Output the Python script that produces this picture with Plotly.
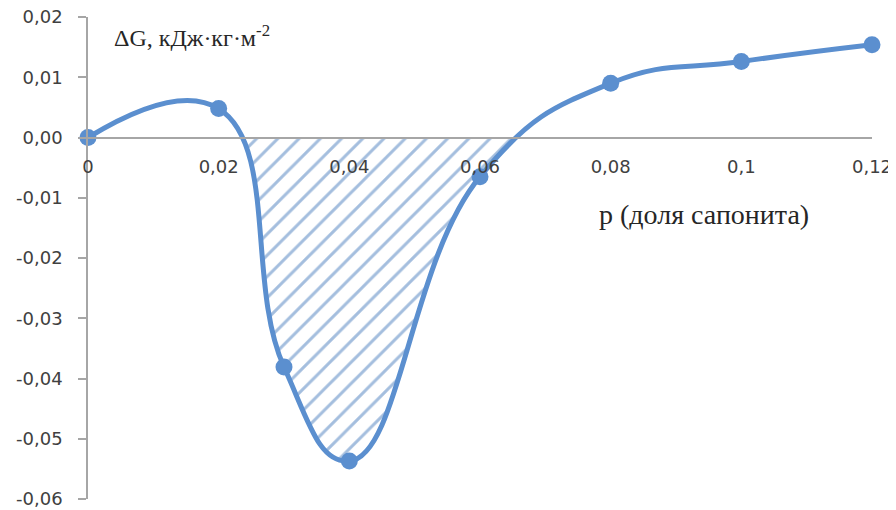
import plotly.graph_objects as go

# data
p_values = [0, 0.02, 0.03, 0.04, 0.06, 0.08, 0.1, 0.12]
dG_values = [0.0, 0.0048, -0.0381, -0.0537, -0.0065, 0.0090, 0.0126, 0.0154]
y_ticks = [0.02, 0.01, 0.0, -0.01, -0.02, -0.03, -0.04, -0.05, -0.06]
y_tick_labels = ["0,02", "0,01", "0,00", "-0,01", "-0,02", "-0,03", "-0,04", "-0,05", "-0,06"]
x_ticks = [0, 0.02, 0.04, 0.06, 0.08, 0.1, 0.12]
x_tick_labels = ["0", "0,02", "0,04", "0,06", "0,08", "0,1", "0,12"]

BLUE = "#5b8fcf"
HATCH = "#4a7dbd"
TXT = "#404040"
AX = "#a6a6a6"
YMIN, YMAX = -0.06, 0.02
zero_frac = (0 - YMIN) / (YMAX - YMIN)
TICKFONT = dict(family="DejaVu Sans, sans-serif", size=18, color=TXT)

# page body adds an 8px offset; plot area in window px: x 88..872, y 17..499
OFF = 8
L, R, T, B = 88 - OFF, 896 - (872 - OFF), 17 - OFF, 510 - (499 - OFF)
PW, PH = 872 - 88, 499 - 17


def px(xw):
    return (xw - 88) / PW


def py(yw):
    return (499 - yw) / PH


fig = go.Figure()

# hatched area (clipped to the negative half via its own subplot)
fig.add_trace(go.Scatter(
    x=p_values, y=dG_values, mode="lines", line_shape="spline", line_smoothing=1.3,
    line=dict(width=0, color=BLUE), fill="tozeroy", fillcolor="rgba(0,0,0,0)",
    fillpattern=dict(shape="/", fgcolor=HATCH, bgcolor="rgba(0,0,0,0)", size=15, solidity=0.2),
    xaxis="x", yaxis="y", hoverinfo="skip", showlegend=False))

# main curve
fig.add_trace(go.Scatter(
    x=p_values, y=dG_values, mode="lines+markers", line_shape="spline", line_smoothing=1.3,
    line=dict(width=5, color=BLUE), marker=dict(size=17, color=BLUE),
    xaxis="x2", yaxis="y2", showlegend=False, cliponaxis=False))

fig.update_layout(
    width=896, height=510,
    margin=dict(l=L, r=R, t=T, b=B, autoexpand=False),
    paper_bgcolor="white", plot_bgcolor="rgba(0,0,0,0)",
    font=dict(family="DejaVu Sans, sans-serif", size=18, color=TXT),
    xaxis=dict(domain=[0, 1], range=[0, 0.12], visible=False, automargin=False),
    yaxis=dict(domain=[0, zero_frac], range=[YMIN, 0], visible=False, automargin=False),
    xaxis2=dict(domain=[0, 1], range=[0, 0.12], anchor="free", position=zero_frac,
                showline=True, linecolor=AX, linewidth=1.5, showgrid=False,
                zeroline=False, tickvals=x_ticks, ticktext=x_tick_labels, ticks="",
                ticklabelstandoff=13, tickfont=TICKFONT, automargin=False,
                ticklabeloverflow="allow"),
    yaxis2=dict(domain=[0, 1], range=[YMIN, YMAX], anchor="x2",
                showline=True, linecolor=AX, linewidth=1.5, showgrid=False,
                zeroline=False, tickvals=y_ticks, ticktext=y_tick_labels,
                ticks="outside", ticklen=8, tickcolor=AX, tickwidth=1.5,
                ticklabelstandoff=12, tickfont=TICKFONT, automargin=False,
                ticklabeloverflow="allow"),
    annotations=[
        dict(text="ΔG, кДж·кг·м<sup>-2</sup>", xref="paper", yref="paper",
             x=px(112), y=py(36), xanchor="left", yanchor="middle",
             showarrow=False,
             font=dict(family="Liberation Serif, serif", size=24, color="#262626")),
        dict(text="р (доля сапонита)", xref="paper", yref="paper",
             x=px(597), y=py(214), xanchor="left", yanchor="middle",
             showarrow=False,
             font=dict(family="Liberation Serif, serif", size=28, color="#262626")),
    ],
)

fig.write_html("out.html")
